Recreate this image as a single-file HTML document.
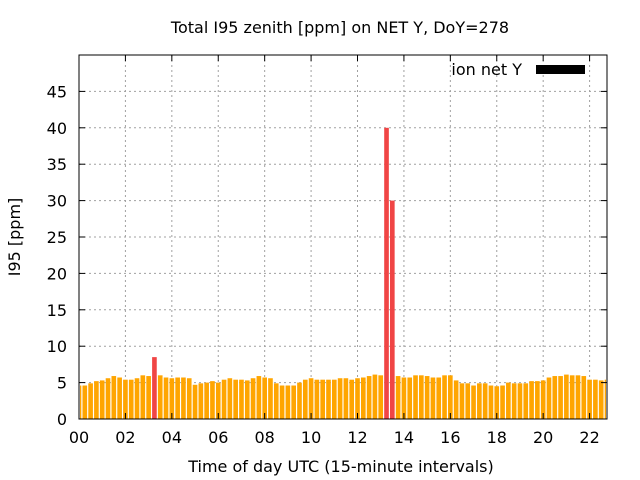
<!DOCTYPE html>
<html><head><meta charset="utf-8"><style>
body{margin:0;background:#fff;}
svg{display:block;font-family:"DejaVu Sans","Liberation Sans",sans-serif;}
</style></head><body>
<svg id="chart" width="640" height="480">
<text x="340" y="33" text-anchor="middle" font-size="16">Total I95 zenith [ppm] on NET Y, DoY=278</text>
<text x="341" y="472" text-anchor="middle" font-size="16">Time of day UTC (15-minute intervals)</text>
<text transform="translate(20,237) rotate(-90)" text-anchor="middle" font-size="16">I95 [ppm]</text>
<g id="grid"></g><g id="bars"></g><g id="axes"></g>
<text x="522" y="75" text-anchor="end" font-size="16">ion net Y</text>
<rect x="536" y="65" width="49" height="9" fill="#000"/>
</svg>
<script>
const values = [4.6,4.6,4.9,5.2,5.3,5.6,5.9,5.7,5.4,5.4,5.6,6.0,5.9,8.5,6.0,5.7,5.6,5.7,5.7,5.6,4.7,4.9,5.0,5.2,5.0,5.4,5.6,5.4,5.4,5.3,5.6,5.9,5.7,5.6,4.9,4.6,4.6,4.6,5.0,5.4,5.6,5.4,5.4,5.4,5.4,5.6,5.6,5.4,5.6,5.7,5.9,6.1,6.0,40,30,5.9,5.7,5.7,6.0,6.0,5.9,5.7,5.7,6.0,6.0,5.3,4.9,4.9,4.6,4.9,4.9,4.6,4.5,4.6,5.0,4.9,4.9,4.9,5.2,5.2,5.3,5.7,5.9,5.9,6.1,6.0,6.0,5.9,5.4,5.4,5.3,5.4];
const xTicks = ["00","02","04","06","08","10","12","14","16","18","20","22"];
const yTicks = [0,5,10,15,20,25,30,35,40,45];
const threshold = 8;
const L=79,R=607,T=55,B=419,xMax=22.75,yMax=50;
const xs=h=>L+(h/xMax)*(R-L);
const ys=v=>B-(v/yMax)*(B-T);
const NS="http://www.w3.org/2000/svg";
function mk(tag,attrs,parent){const e=document.createElementNS(NS,tag);for(const k in attrs)e.setAttribute(k,attrs[k]);document.getElementById(parent).appendChild(e);return e;}
yTicks.forEach((v,i)=>{const y=ys(v);
 if(v>0){const g=mk('line',{x1:L,x2:R,y1:y,y2:y,stroke:'#a0a0a0','stroke-dasharray':'2,3'},'grid');
 
 }
 const t=mk('text',{x:L-12,y:y+6,'text-anchor':'end','font-size':16},'axes');t.textContent=v;
 
 
 mk('line',{x1:L,x2:L+6,y1:y,y2:y,stroke:'#000'},'axes');
 mk('line',{x1:R,x2:R-6,y1:y,y2:y,stroke:'#000'},'axes');
});
xTicks.forEach((lab,i)=>{const x=xs(parseInt(lab,10));
 if(i>0){const g=mk('line',{x1:x,x2:x,y1:T,y2:B,stroke:'#a0a0a0','stroke-dasharray':'2,3'},'grid');
 
 }
 const t=mk('text',{x:x,y:B+24,'text-anchor':'middle','font-size':16},'axes');t.textContent=lab;
 
 
 mk('line',{x1:x,x2:x,y1:B,y2:B-6,stroke:'#000'},'axes');
 mk('line',{x1:x,x2:x,y1:T,y2:T+6,stroke:'#000'},'axes');
});
const step=xs(0.25)-xs(0);
values.forEach((v,i)=>{const cx=xs(i*0.25);let x0=cx-step*0.4,x1=cx+step*0.4;
 x0=Math.max(x0,L+1);x1=Math.min(x1,R-1);
 const b=mk('rect',{x:x0,y:ys(v),width:x1-x0,height:B-ys(v),fill:v>=threshold?'#f04545':'#ffa500'},'bars');
 
 
});
const fr=mk('rect',{x:L,y:T,width:R-L,height:B-T,fill:'none',stroke:'#000','stroke-width':1},'axes');


</script>
</body></html>
